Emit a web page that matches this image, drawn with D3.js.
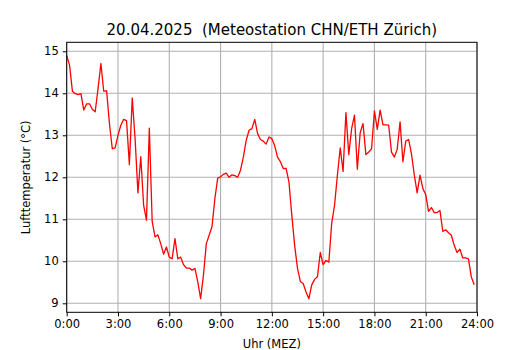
<!DOCTYPE html>
<html>
<head>
<meta charset="utf-8">
<script src="https://cdn.jsdelivr.net/npm/d3@7"></script>
<style>
  body { margin: 0; background: #fff; }
  svg { display: block; font-family: "DejaVu Sans", sans-serif; }
</style>
</head>
<body>
<svg id="chart" width="530" height="350"></svg>
<script>
// Lufttemperatur, 10-Minuten-Werte ab 0:00
var temps = [
  14.90, 14.67, 14.05, 13.99, 13.97, 13.99, 13.60, 13.75, 13.75, 13.62,
  13.56, 14.11, 14.71, 14.05, 14.06, 13.28, 12.68, 12.70, 13.00, 13.24,
  13.38, 13.35, 12.30, 13.89, 12.92, 11.63, 12.49, 11.33, 10.98, 13.17,
  10.95, 10.58, 10.63, 10.42, 10.17, 10.34, 10.10, 10.06, 10.54, 10.06,
  10.10, 9.92, 9.84, 9.84, 9.79, 9.83, 9.51, 9.11, 9.67, 10.42,
  10.62, 10.83, 11.49, 11.98, 12.01, 12.07, 12.10, 12.00, 12.06, 12.04,
  12.00, 12.17, 12.48, 12.88, 13.12, 13.16, 13.38, 13.04, 12.90, 12.86,
  12.79, 12.96, 12.92, 12.75, 12.48, 12.37, 12.21, 12.21, 11.89, 11.10,
  10.38, 9.83, 9.52, 9.47, 9.27, 9.11, 9.44, 9.57, 9.63, 10.21,
  9.92, 10.02, 9.98, 10.90, 11.33, 12.05, 12.70, 12.14, 13.54, 12.54,
  13.16, 13.48, 12.19, 13.06, 13.28, 12.54, 12.60, 12.68, 13.58, 13.14,
  13.60, 13.25, 13.25, 13.24, 12.60, 12.48, 12.67, 13.32, 12.37, 12.86,
  12.90, 12.56, 12.05, 11.63, 12.05, 11.73, 11.59, 11.19, 11.28, 11.16,
  11.16, 11.21, 10.71, 10.75, 10.68, 10.62, 10.38, 10.21, 10.29, 10.08,
  10.08, 10.06, 9.63, 9.44
];
var stepMinutes = 10;
var xTicks = [0, 3, 6, 9, 12, 15, 18, 21, 24];
var yTicks = [9, 10, 11, 12, 13, 14, 15];
var title = "20.04.2025  (Meteostation CHN/ETH Zürich)";
var xLabel = "Uhr (MEZ)";
var yLabel = "Lufttemperatur (°C)";

var box = {left: 66.7, right: 477, top: 42.3, bottom: 312.3};

var svg = d3.select("#chart");

var x = d3.scaleLinear().domain([0, 24]).range([box.left, box.right]);
var y = d3.scaleLinear().domain([8.786, 15.214]).range([box.bottom, box.top]);

// grid
svg.append("g")
  .selectAll("line.gx")
  .data(xTicks)
  .enter().append("line")
    .attr("x1", function(d) { return x(d); })
    .attr("x2", function(d) { return x(d); })
    .attr("y1", box.top).attr("y2", box.bottom)
    .attr("stroke", "#b0b0b0").attr("stroke-width", 1.1);
svg.append("g")
  .selectAll("line.gy")
  .data(yTicks)
  .enter().append("line")
    .attr("y1", function(d) { return y(d); })
    .attr("y2", function(d) { return y(d); })
    .attr("x1", box.left).attr("x2", box.right)
    .attr("stroke", "#b0b0b0").attr("stroke-width", 1.1);

// line
var line = d3.line()
  .x(function(d, i) { return x(i * stepMinutes / 60); })
  .y(function(d) { return y(d); });
svg.append("path")
  .datum(temps)
  .attr("fill", "none")
  .attr("stroke", "#ff0000")
  .attr("stroke-width", 1.3)
  .attr("stroke-linejoin", "round")
  .attr("d", line);

// frame
svg.append("rect")
  .attr("x", box.left).attr("y", box.top)
  .attr("width", box.right - box.left).attr("height", box.bottom - box.top)
  .attr("fill", "none").attr("stroke", "#000").attr("stroke-width", 1);

// axes
var xAxis = svg.append("g")
  .attr("transform", "translate(0," + box.bottom + ")")
  .call(d3.axisBottom(x).tickValues(xTicks).tickSize(4).tickPadding(4)
    .tickFormat(function(d) { return d + ":00"; }));
var yAxis = svg.append("g")
  .attr("transform", "translate(" + box.left + ",0)")
  .call(d3.axisLeft(y).tickValues(yTicks).tickSize(4).tickPadding(4)
    .tickFormat(d3.format("d")));
[xAxis, yAxis].forEach(function(a) {
  a.select(".domain").remove();
  a.selectAll("text").attr("font-size", 11.5).attr("fill", "#000")
    .attr("font-family", "DejaVu Sans");
  a.selectAll("line").attr("stroke", "#000").attr("stroke-width", 1);
});

svg.append("text")
  .attr("x", (box.left + box.right) / 2).attr("y", 35)
  .attr("text-anchor", "middle").attr("font-size", 15)
  .style("white-space", "pre")
  .text(title);
svg.append("text")
  .attr("x", (box.left + box.right) / 2).attr("y", 348)
  .attr("text-anchor", "middle").attr("font-size", 11.5)
  .text(xLabel);
svg.append("text")
  .attr("transform", "translate(30," + ((box.top + box.bottom) / 2) + ") rotate(-90)")
  .attr("text-anchor", "middle").attr("font-size", 11.5)
  .text(yLabel);
</script>
</body>
</html>
